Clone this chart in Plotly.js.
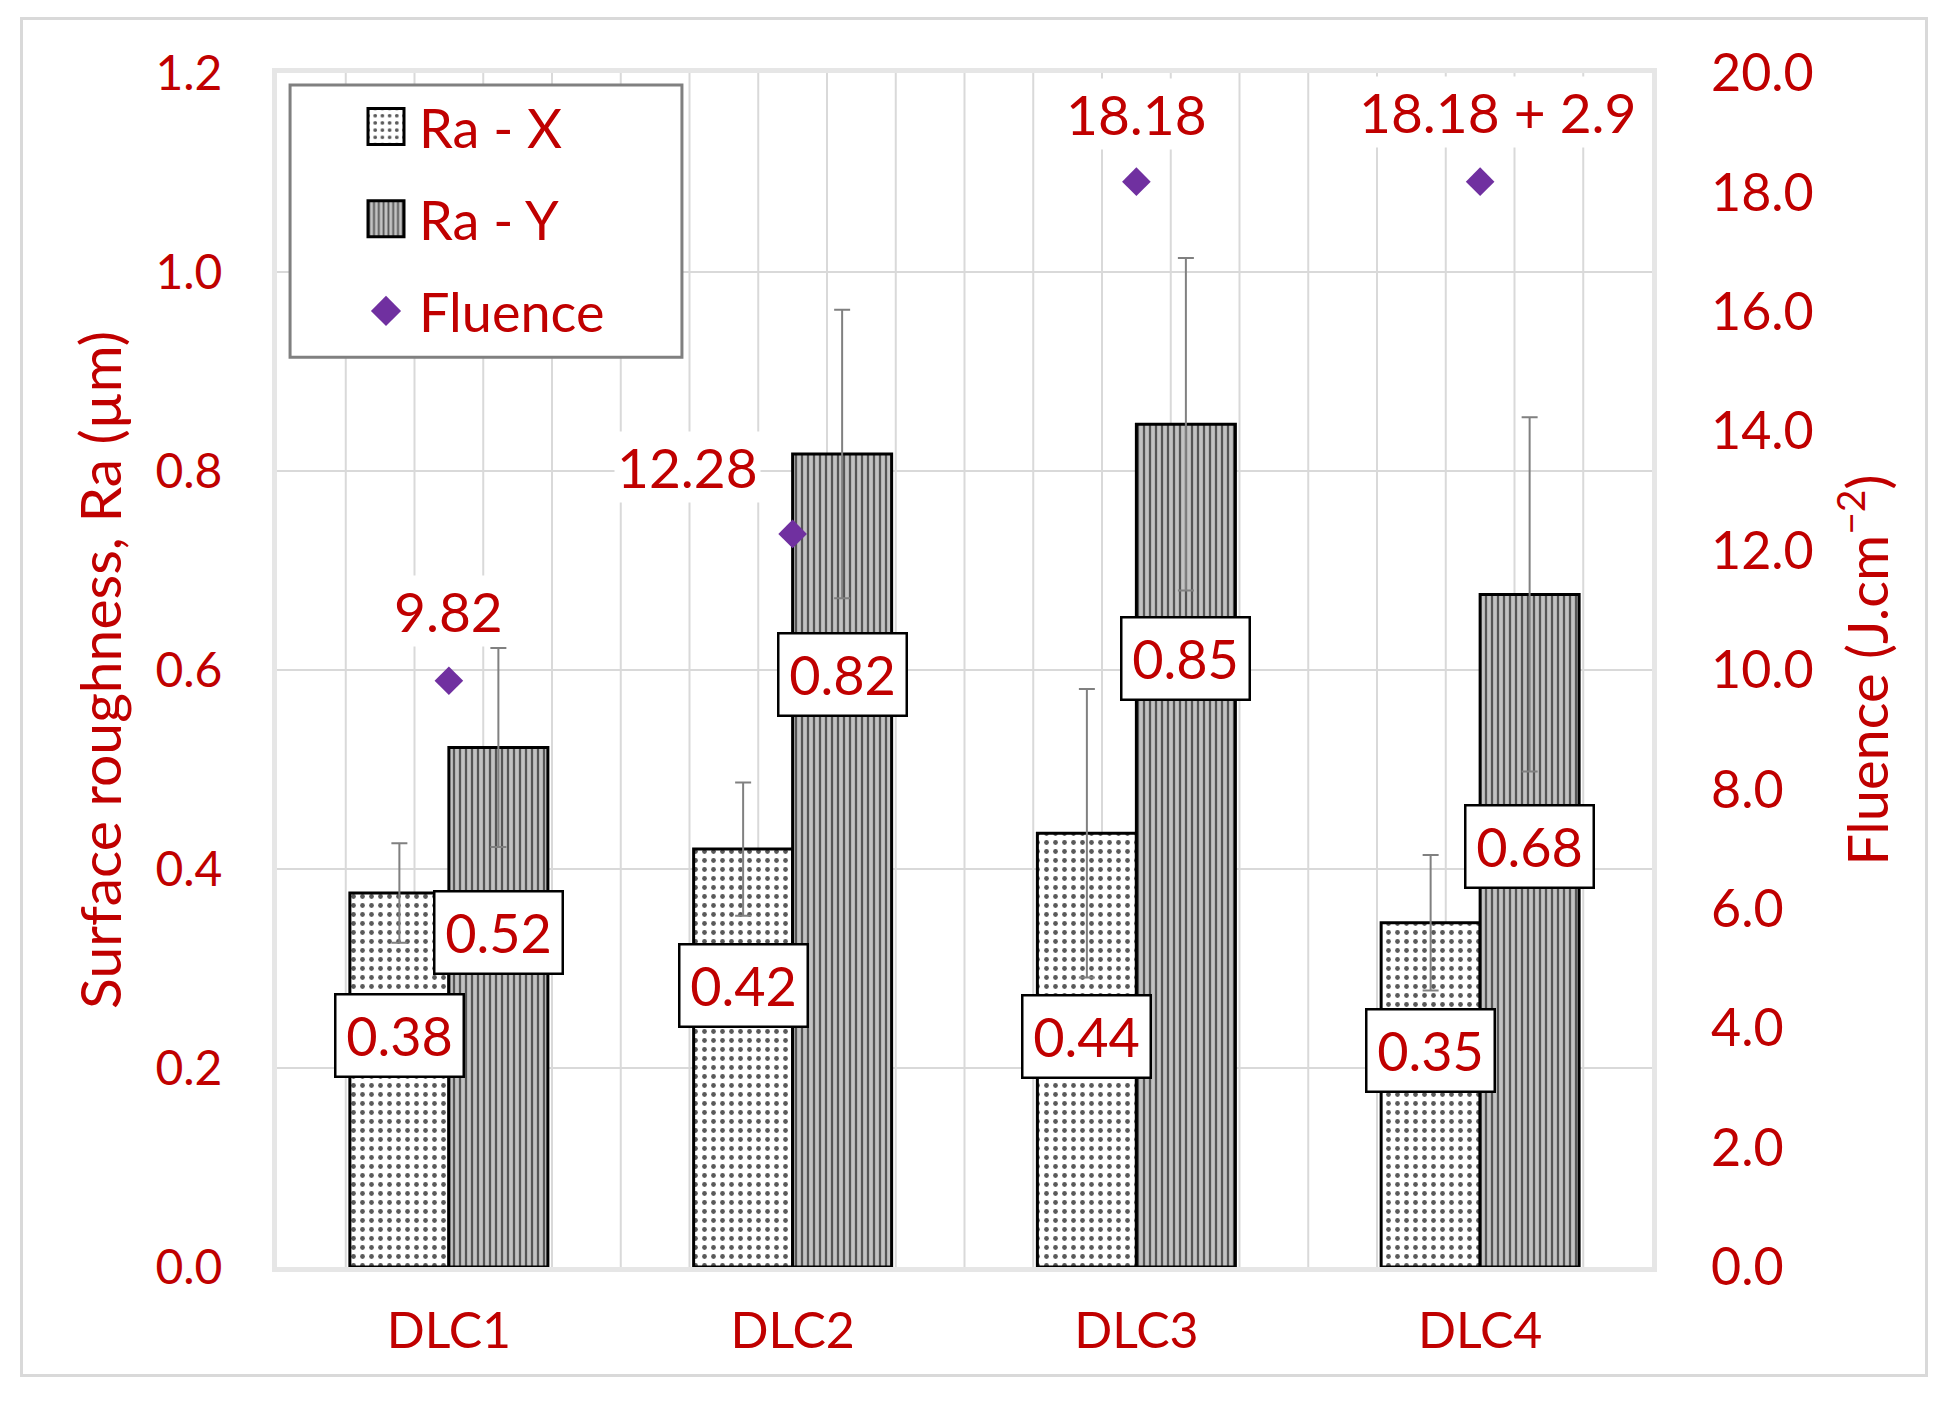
<!DOCTYPE html>
<html><head><meta charset="utf-8">
<script src="https://cdn.plot.ly/plotly-3.0.1.min.js"></script>
<style>
html,body{margin:0;padding:0;background:#fff;}
#chart{width:1951px;height:1407px;}
#frame{position:absolute;left:20px;top:17px;width:1902px;height:1354px;border:3px solid #d9d9d9;pointer-events:none;}
</style>
</head><body><div id="chart"></div><div id="frame"></div>
<script>
// ---- data ----
const categories = ['DLC1', 'DLC2', 'DLC3', 'DLC4'];
const raX = [0.376, 0.420, 0.436, 0.346];
const raXErr = [0.050, 0.067, 0.145, 0.068];
const raY = [0.522, 0.817, 0.847, 0.676];
const raYErr = [0.100, 0.145, 0.167, 0.178];
const fluence = [9.82, 12.28, 18.18, 18.18];
const fluenceLabels = ['9.82', '12.28', '18.18', '18.18 + 2.9'];

// ---- label placement (layout only) ----
const raXLabelPos = [0.233, 0.283, 0.232, 0.218];
const raYLabelPos = [0.336, 0.595, 0.612, 0.423];
const fluenceLabelShift = [[0, 70], [-105, 67], [0, 68], [17, 70]];

const RED = '#c00000';
const FONT = 'Lato, "Open Sans", sans-serif';

const traces = [
  {
    type: 'bar', name: 'Ra - X', x: categories, y: raX, legendgroup: 'a',
    marker: {color: '#ffffff', line: {color: '#000000', width: 3},
      pattern: {shape: '.', fgcolor: '#5a5a5a', bgcolor: '#ffffff', size: 9, solidity: 0.22}},
    error_y: {type: 'data', array: raXErr, visible: true, color: '#808080', thickness: 2, width: 8}
  },
  {
    type: 'bar', name: 'Ra - Y', x: categories, y: raY, legendgroup: 'b',
    marker: {color: '#b0b0b0', line: {color: '#000000', width: 3},
      pattern: {shape: '|', fgcolor: '#555555', bgcolor: '#c2c2c2', size: 6, solidity: 0.38}},
    error_y: {type: 'data', array: raYErr, visible: true, color: '#808080', thickness: 2, width: 8}
  },
  {
    type: 'scatter', mode: 'markers', name: 'Fluence', x: categories, y: fluence, yaxis: 'y2', legendgroup: 'c',
    marker: {symbol: 'diamond', size: 22, color: '#7030a0'}
  }
];

const annotations = [];
categories.forEach((c, i) => {
  annotations.push({x: c, y: raXLabelPos[i], xref: 'x', yref: 'y', xshift: -49.5, text: raX[i].toFixed(2),
    showarrow: false, font: {family: FONT, size: 54, color: RED}, bgcolor: '#ffffff',
    bordercolor: '#000000', borderwidth: 2.5, borderpad: 0, width: 126, height: 80});
  annotations.push({x: c, y: raYLabelPos[i], xref: 'x', yref: 'y', xshift: 49.5, text: raY[i].toFixed(2),
    showarrow: false, font: {family: FONT, size: 54, color: RED}, bgcolor: '#ffffff',
    bordercolor: '#000000', borderwidth: 2.5, borderpad: 0, width: 126, height: 80});
  annotations.push({x: c, y: fluence[i], xref: 'x', yref: 'y2', xshift: fluenceLabelShift[i][0], yshift: fluenceLabelShift[i][1],
    text: fluenceLabels[i], showarrow: false, font: {family: FONT, size: 55, color: RED}, bgcolor: '#ffffff', borderpad: 2});
});

// vertical minor gridlines: 5 per category
const shapes = [];
const nV = categories.length * 5;
for (let k = 1; k < nV; k++) {
  shapes.push({type: 'line', xref: 'paper', yref: 'paper', x0: k / nV, x1: k / nV, y0: 0, y1: 1,
    line: {color: '#d9d9d9', width: 2}, layer: 'below'});
}
// legend frame
shapes.push({type: 'rect', xref: 'paper', yref: 'paper', x0: 0.0095, x1: 0.2945, y0: 0.762, y1: 0.99,
  line: {color: '#808080', width: 3}, fillcolor: '#ffffff', layer: 'above'});

const layout = {
  width: 1951, height: 1407,
  margin: {l: 277, r: 299, t: 73, b: 140},
  paper_bgcolor: '#ffffff', plot_bgcolor: '#ffffff',
  font: {family: FONT, color: RED},
  barmode: 'group', bargap: 0.424, bargroupgap: 0,
  showlegend: true,
  legend: {x: 0.0095, y: 0.99, xanchor: 'left', yanchor: 'top', bgcolor: 'rgba(0,0,0,0)',
    borderwidth: 0, font: {family: FONT, size: 54, color: RED},
    tracegroupgap: 19, itemwidth: 119},
  xaxis: {type: 'category', showgrid: false, tickfont: {family: FONT, size: 50, color: RED},
    ticks: '', ticklabelstandoff: 16, showline: true, mirror: true, linecolor: '#e6e6e6', linewidth: 5,
    layer: 'below traces', zeroline: false},
  yaxis: {range: [0, 1.2], dtick: 0.2, tickformat: '.1f', showgrid: true, gridcolor: '#d9d9d9', gridwidth: 2,
    tickfont: {family: FONT, size: 48, color: RED}, ticks: '', ticklabelstandoff: 40,
    showline: true, mirror: true, linecolor: '#e6e6e6', linewidth: 5, layer: 'below traces', zeroline: false,
    title: {text: 'Surface roughness, Ra (µm)', font: {family: FONT, size: 57, color: RED}, standoff: 17}},
  yaxis2: {overlaying: 'y', side: 'right', range: [0, 20], dtick: 2, tickformat: '.1f', showgrid: false,
    tickfont: {family: FONT, size: 52, color: RED}, ticks: '', ticklabelstandoff: 58, zeroline: false,
    title: {text: 'Fluence (J.cm<sup>−2</sup>)', font: {family: FONT, size: 56, color: RED}, standoff: 36}},
  shapes: shapes,
  annotations: annotations
};

Plotly.newPlot('chart', traces, layout, {displayModeBar: false, staticPlot: true}).then(gd => {
  // enlarge legend keys like the original chart's legend
  const targetX = 386;
  gd.querySelectorAll('.legend g.traces').forEach((it, i) => {
    const lay = it.querySelector('g.layers');
    if (!lay) return;
    let s = 1;
    if (i < 2) {
      lay.querySelectorAll('path').forEach(p => { p.setAttribute('d', 'M18,18H-18V-18H18Z'); });
    } else {
      s = 1.45;
      lay.querySelectorAll('path').forEach(p => { p.style.vectorEffect = 'non-scaling-stroke'; });
    }
    lay.setAttribute('transform', 'scale(' + s + ')');
    const r = lay.getBoundingClientRect();
    const cx = r.left + r.width / 2;
    lay.setAttribute('transform', 'translate(' + (targetX - cx) + ',0) scale(' + s + ')');
  });
});
</script>
</body></html>
